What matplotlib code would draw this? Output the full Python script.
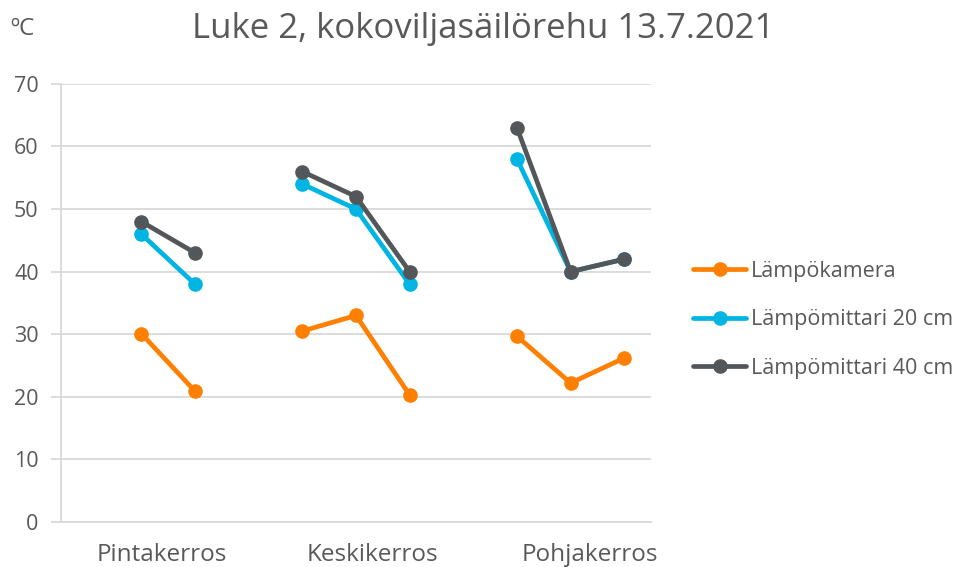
import numpy as np
import matplotlib
matplotlib.use("Agg")
import matplotlib.pyplot as plt

plt.rcParams['font.family'] = ['Open Sans', 'DejaVu Sans']

# 11 category slots, empty slots separate the three layers
n_slots = 11
group_labels = ['Pintakerros', 'Keskikerros', 'Pohjakerros']
group_label_pos = [1.38, 5.31, 9.36]

nan = np.nan
lampokamera = [nan, 30.1, 20.9, nan, 30.5, 33.0, 20.3, nan, 29.7, 22.2, 26.2]
mittari_20 = [nan, 46, 38, nan, 54, 50, 38, nan, 58, 40, 42]
mittari_40 = [nan, 48, 43, nan, 56, 52, 40, nan, 63, 40, 42]

series = [
    ('Lämpökamera', lampokamera, '#FF8000'),
    ('Lämpömittari 20 cm', mittari_20, '#00B4E4'),
    ('Lämpömittari 40 cm', mittari_40, '#53575A'),
]

text_col = '#595959'
grid_col = '#D9D9D9'

fig = plt.figure(figsize=(9.66, 5.67), dpi=100)
ax = fig.add_axes([0.063, 0.0794, 0.611, 0.7726])

x = np.arange(n_slots)
for name, vals, col in series:
    ax.plot(x, vals, color=col, lw=3.4, marker='o', ms=9.5, label=name,
            solid_capstyle='round', zorder=3)

ax.set_xlim(-0.5, n_slots - 0.5)
ax.set_ylim(0, 70)
ax.set_yticks(np.arange(0, 71, 10))
ax.yaxis.grid(True, color=grid_col, lw=1.3)
ax.set_axisbelow(True)
for s in ['top', 'right']:
    ax.spines[s].set_visible(False)
ax.spines['left'].set_color(grid_col)
ax.spines['left'].set_linewidth(1.3)
ax.spines['bottom'].set_color(grid_col)
ax.spines['bottom'].set_linewidth(1.3)
ax.tick_params(axis='y', colors=grid_col, length=7, width=1.3,
               labelcolor=text_col, labelsize=15.5, pad=9)
ax.set_xticks(group_label_pos)
ax.set_xticklabels(group_labels)
ax.tick_params(axis='x', length=0, labelcolor=text_col, labelsize=17.5, pad=15)

fig.text(0.5, 0.948, 'Luke 2, kokoviljasäilörehu 13.7.2021', ha='center', va='center',
         fontsize=25, color=text_col)
fig.text(0.011, 0.948, 'ºC', ha='left', va='center', fontsize=17.5, color=text_col)

leg = fig.legend(loc='center left', bbox_to_anchor=(0.717, 0.436), frameon=False,
                 fontsize=15.5, handlelength=2.5, handletextpad=0.2,
                 labelspacing=1.27, borderaxespad=0, borderpad=0)
for t in leg.get_texts():
    t.set_color(text_col)

fig.savefig('out.png', dpi=100)
